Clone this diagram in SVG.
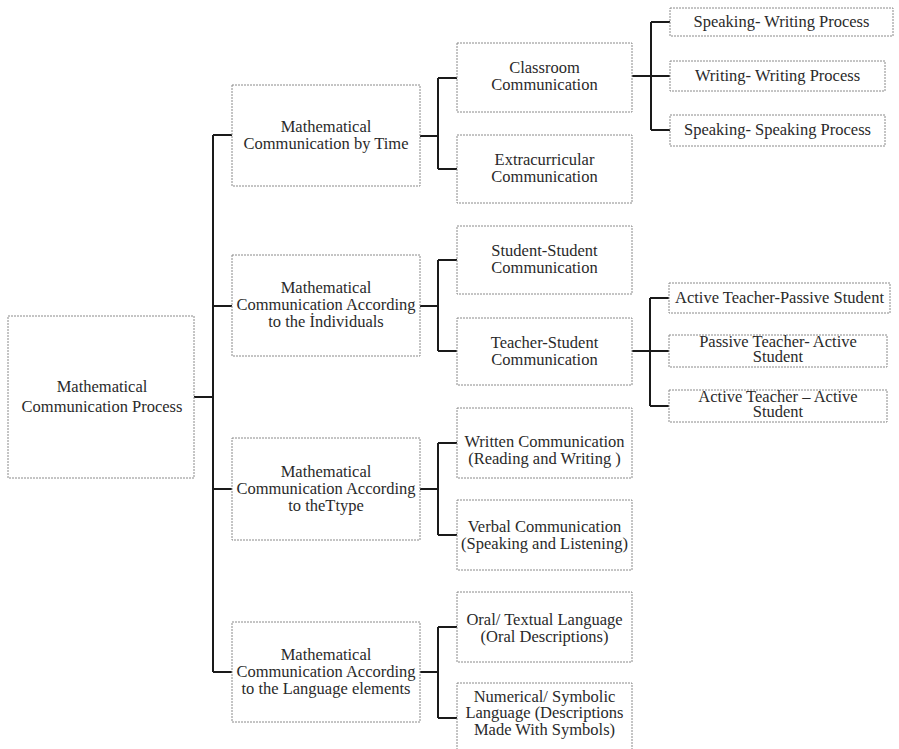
<svg xmlns="http://www.w3.org/2000/svg" width="899" height="749" viewBox="0 0 899 749">
<style>
.box{fill:#fff;stroke:#8a8a8a;stroke-width:1;stroke-dasharray:2 1}
.t{font-family:"Liberation Serif","Times New Roman",serif;font-size:16.5px;fill:#2a2a2a;text-anchor:middle}
.c{fill:none;stroke:#1a1a1a;stroke-width:2}
</style>
<rect width="899" height="749" fill="#fff"/>
<g id="connectors">
<path class="c" d="M194 397H213M213 135V672M213 135H232M213 306H232M213 489H232M213 672H232"/>
<path class="c" d="M420 136H438M438 78V169M438 78H457M438 169H457"/>
<path class="c" d="M632 76H651M651 22V130M651 22H670M651 76H670M651 130H670"/>
<path class="c" d="M420 306H438M438 260V351M438 260H457M438 351H457"/>
<path class="c" d="M632 351H650M650 298V406M650 298H669M650 351H669M650 406H669"/>
<path class="c" d="M420 489H438M438 443V535M438 443H457M438 535H457"/>
<path class="c" d="M420 672H438M438 627V718M438 627H457M438 718H457"/>
</g>
<g id="root">
<rect class="box" x="8" y="316" width="186" height="162"/>
<text class="t" x="102" y="392">Mathematical</text>
<text class="t" x="102" y="412">Communication  Process</text>
</g>
<g id="time">
<rect class="box" x="232" y="85" width="188" height="101"/>
<text class="t" x="326" y="132">Mathematical</text>
<text class="t" x="326" y="149">Communication by Time</text>
</g>
<g id="individuals">
<rect class="box" x="232" y="255" width="188" height="101"/>
<text class="t" x="326" y="293">Mathematical</text>
<text class="t" x="326" y="310">Communication According</text>
<text class="t" x="326" y="327">to the İndividuals</text>
</g>
<g id="type">
<rect class="box" x="232" y="438" width="188" height="102"/>
<text class="t" x="326" y="477">Mathematical</text>
<text class="t" x="326" y="494">Communication According</text>
<text class="t" x="326" y="511">to theTtype</text>
</g>
<g id="language">
<rect class="box" x="232" y="622" width="188" height="100"/>
<text class="t" x="326" y="660">Mathematical</text>
<text class="t" x="326" y="677">Communication According</text>
<text class="t" x="326" y="694">to the Language  elements</text>
</g>
<g id="classroom">
<rect class="box" x="457" y="43" width="175" height="69"/>
<text class="t" x="544.5" y="73">Classroom</text>
<text class="t" x="544.5" y="90">Communication</text>
</g>
<g id="extracurricular">
<rect class="box" x="457" y="135" width="175" height="68"/>
<text class="t" x="544.5" y="165">Extracurricular</text>
<text class="t" x="544.5" y="182">Communication</text>
</g>
<g id="student-student">
<rect class="box" x="457" y="226" width="175" height="68"/>
<text class="t" x="544.5" y="256">Student-Student</text>
<text class="t" x="544.5" y="273">Communication</text>
</g>
<g id="teacher-student">
<rect class="box" x="457" y="318" width="175" height="67"/>
<text class="t" x="544.5" y="348">Teacher-Student</text>
<text class="t" x="544.5" y="365">Communication</text>
</g>
<g id="written">
<rect class="box" x="457" y="408" width="175" height="70"/>
<text class="t" x="544.5" y="447">Written Communication</text>
<text class="t" x="544.5" y="464">(Reading and Writing )</text>
</g>
<g id="verbal">
<rect class="box" x="457" y="500" width="175" height="70"/>
<text class="t" x="544.5" y="532">Verbal Communication</text>
<text class="t" x="544.5" y="549">(Speaking and Listening)</text>
</g>
<g id="oral">
<rect class="box" x="457" y="592" width="175" height="70"/>
<text class="t" x="544.5" y="625">Oral/ Textual Language</text>
<text class="t" x="544.5" y="642">(Oral Descriptions)</text>
</g>
<g id="numerical">
<rect class="box" x="457" y="683" width="175" height="70"/>
<text class="t" x="544.5" y="702">Numerical/ Symbolic</text>
<text class="t" x="544.5" y="718">Language (Descriptions</text>
<text class="t" x="544.5" y="735">Made With Symbols)</text>
</g>
<g id="speaking-writing">
<rect class="box" x="670" y="8" width="223" height="28"/>
<text class="t" x="781.5" y="27">Speaking- Writing Process</text>
</g>
<g id="writing-writing">
<rect class="box" x="670" y="61" width="215" height="30"/>
<text class="t" x="777.5" y="81">Writing- Writing Process</text>
</g>
<g id="speaking-speaking">
<rect class="box" x="670" y="115" width="215" height="31"/>
<text class="t" x="777.5" y="135">Speaking- Speaking Process</text>
</g>
<g id="active-passive">
<rect class="box" x="669" y="283" width="221" height="30"/>
<text class="t" x="779.5" y="303">Active Teacher-Passive Student</text>
</g>
<g id="passive-active">
<rect class="box" x="669" y="335" width="218" height="32"/>
<text class="t" x="778" y="347">Passive Teacher- Active</text>
<text class="t" x="778" y="362">Student</text>
</g>
<g id="active-active">
<rect class="box" x="669" y="390" width="218" height="32"/>
<text class="t" x="778" y="402">Active Teacher – Active</text>
<text class="t" x="778" y="417">Student</text>
</g>
</svg>
